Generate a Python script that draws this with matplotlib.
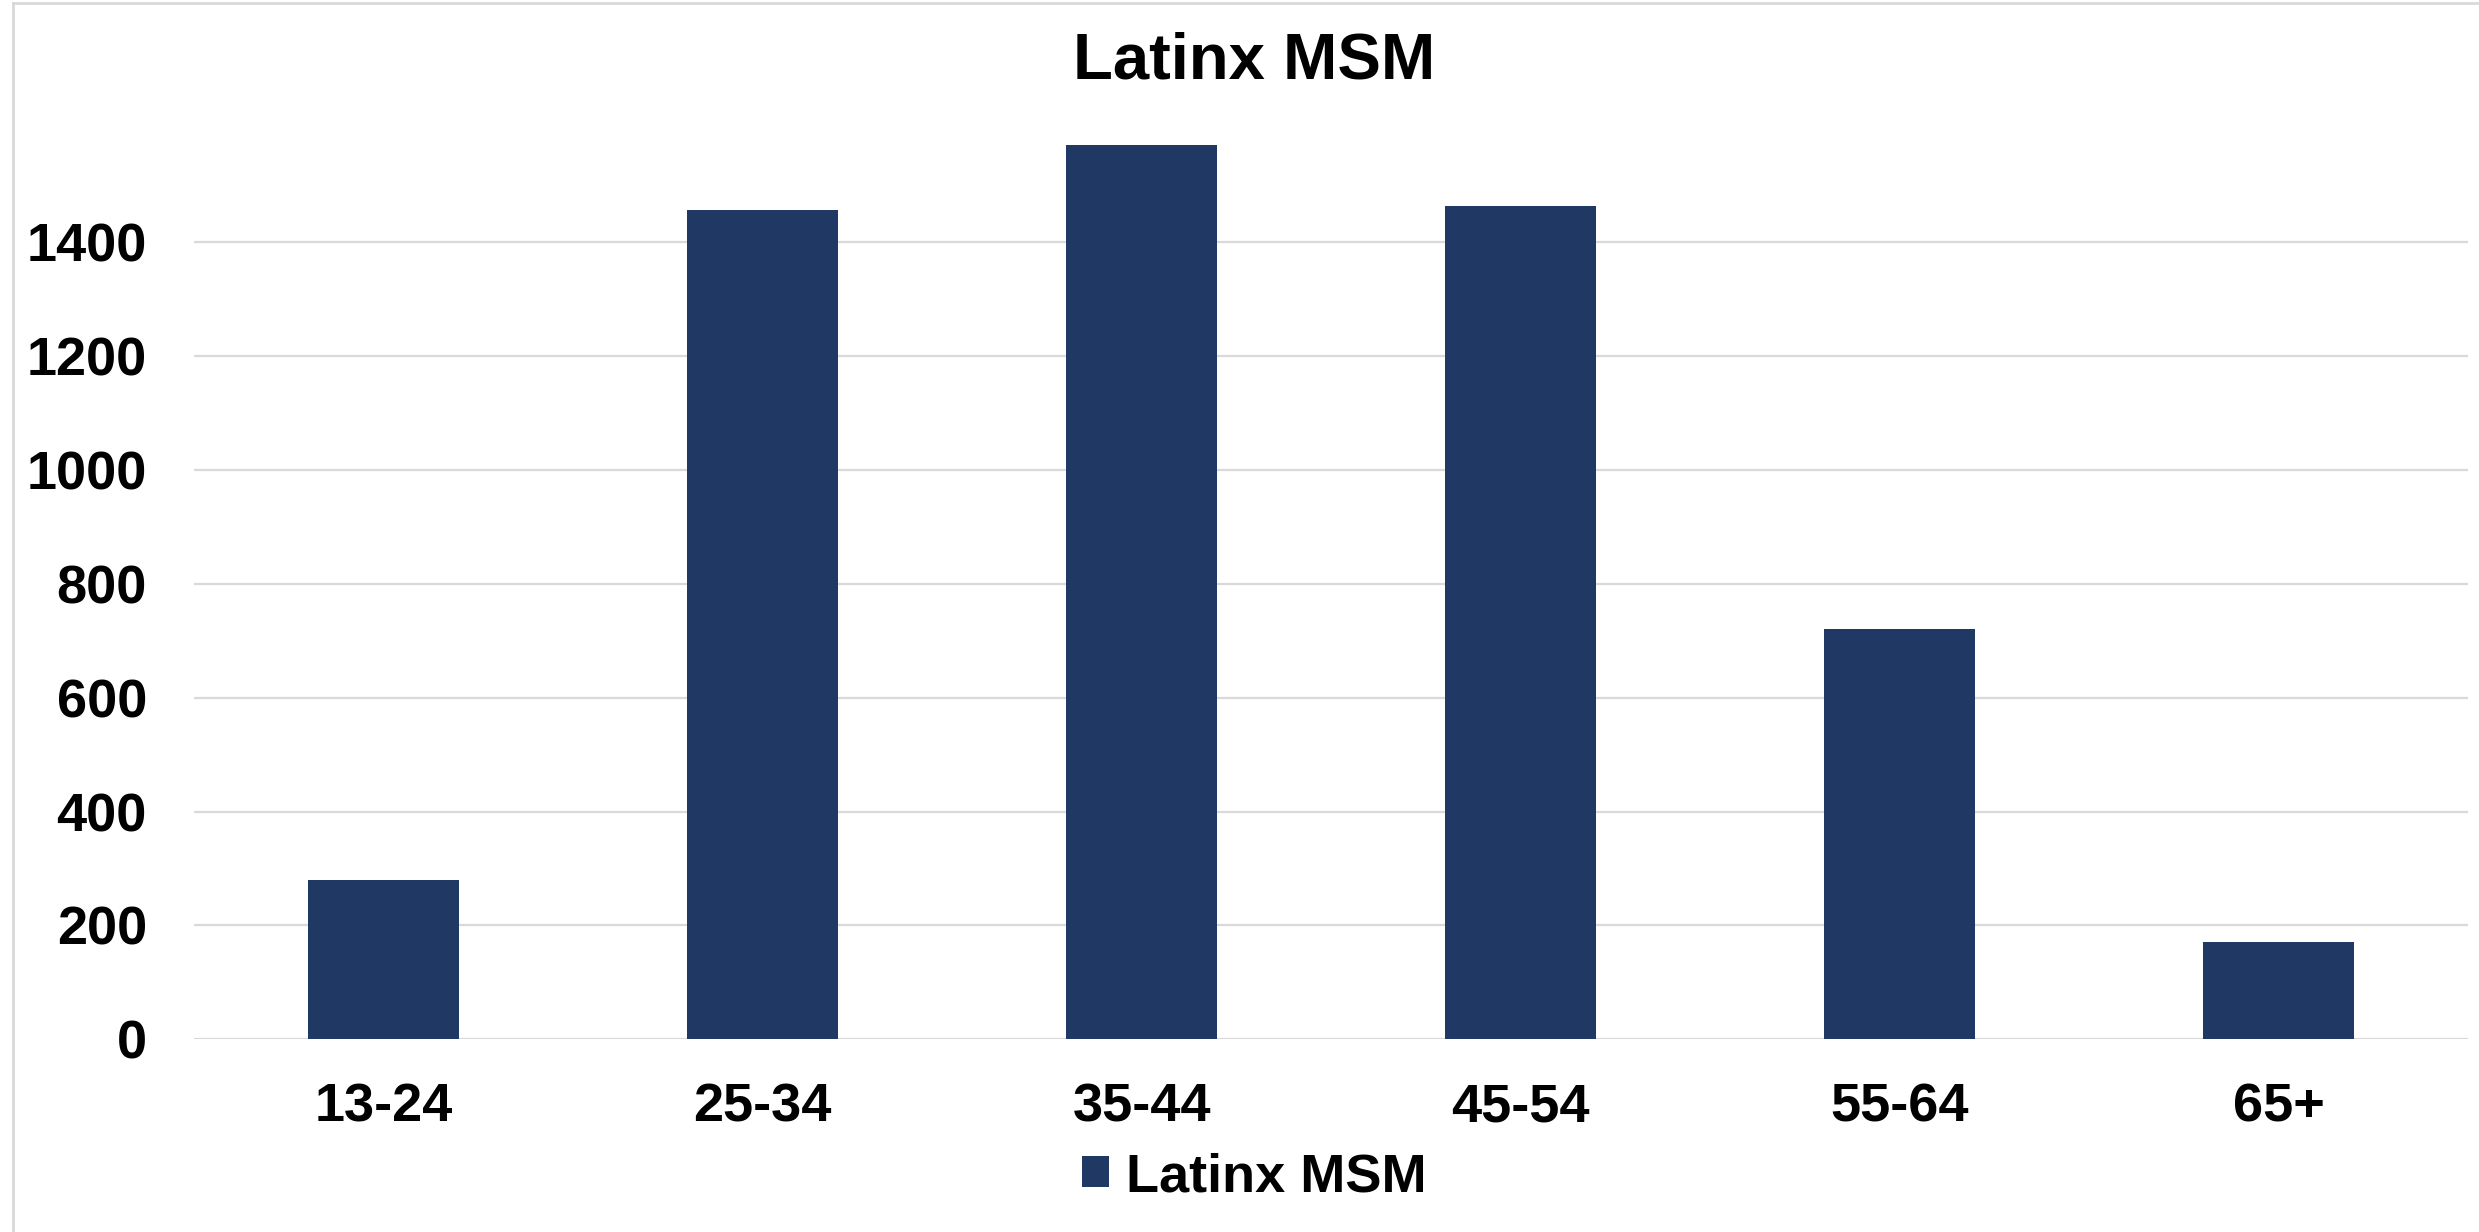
import matplotlib
matplotlib.use("Agg")
import matplotlib.pyplot as plt
from matplotlib.lines import Line2D

plt.rcParams['font.family'] = ['Liberation Sans', 'DejaVu Sans']

ages = ['13-24', '25-34', '35-44', '45-54', '55-64', '65+']
counts = [279, 1456, 1570, 1463, 721, 171]
series_name = 'Latinx MSM'
yticks = [0, 200, 400, 600, 800, 1000, 1200, 1400]

bar_color = '#203864'
grid_color = '#d9d9d9'

fig = plt.figure(figsize=(24.79, 12.32), dpi=100)
ax = fig.add_axes([0.0783, 0.1564, 0.9173, 0.7396])

ax.set_axisbelow(True)
for y in yticks:
    ax.axhline(y, color=grid_color, lw=1.6, zorder=0)
bars = ax.bar(range(len(ages)), counts, width=0.4, color=bar_color, label=series_name, zorder=2)

ax.set_xlim(-0.5, len(ages) - 0.5)
ax.set_ylim(0, 1600)
ax.set_yticks(yticks)
ax.set_xticks(range(len(ages)))
ax.set_xticklabels(ages)
for s in ax.spines.values():
    s.set_visible(False)
ax.tick_params(axis='both', length=0, labelsize=39)
ax.tick_params(axis='y', pad=34)
ax.tick_params(axis='x', pad=31)
for lbl in ax.get_xticklabels() + ax.get_yticklabels():
    lbl.set_fontweight('bold')

fig.text(0.506, 0.95, 'Latinx MSM', ha='center', va='center', fontsize=47, fontweight='bold')

fig.legend(handles=[bars], labels=[series_name], loc='center', bbox_to_anchor=(0.506, 0.0446),
           frameon=False, prop={'size': 39, 'weight': 'bold'},
           handlelength=0.5, handleheight=0.5, handletextpad=0.3)

# light chart border (left and top edges)
fig.lines.append(Line2D([13 / 2479, 13 / 2479], [0, 1 - 3 / 1232], transform=fig.transFigure,
                        color=grid_color, lw=2))
fig.lines.append(Line2D([13 / 2479, 1], [1 - 3 / 1232, 1 - 3 / 1232], transform=fig.transFigure,
                        color=grid_color, lw=2))

fig.savefig('out.png', dpi=100)
